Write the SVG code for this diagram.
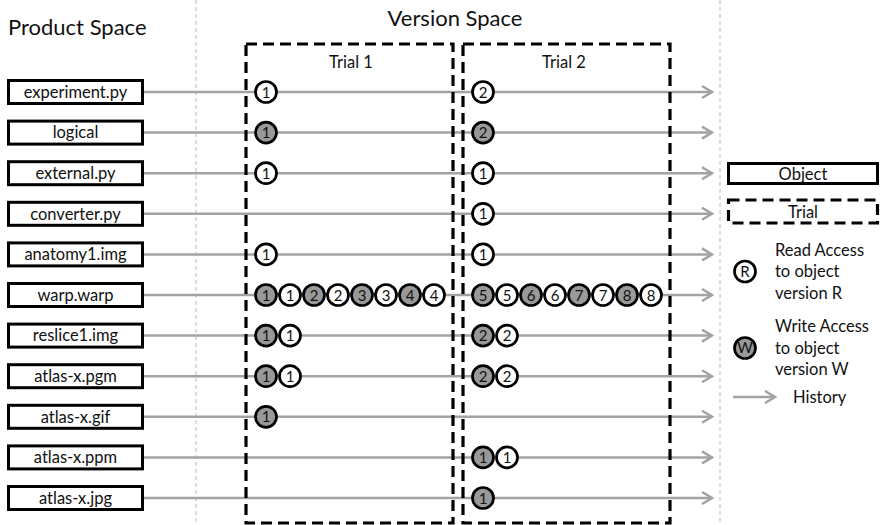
<svg xmlns="http://www.w3.org/2000/svg" width="881" height="525" viewBox="0 0 881 525">
<style>
text{font-family:Lato,"Open Sans","Liberation Sans",sans-serif;fill:#111}
.title{font-size:22px}
.lbl{font-size:16.5px;text-anchor:middle}
.obj{fill:#fff;stroke:#000;stroke-width:3}
.trial{fill:none;stroke:#000;stroke-width:3.2;stroke-dasharray:11 6}
.sep{stroke:#bbb;stroke-width:1;stroke-dasharray:4 3}
.hist{stroke:#a3a3a3;stroke-width:2.5;fill:none}
.r{fill:#fff;stroke:#000;stroke-width:2.7}
.w{fill:#999;stroke:#000;stroke-width:2.7}
.n{font-size:15px;text-anchor:middle}
.leg{font-size:16.5px}
</style>
<defs>
<marker id="arr" markerWidth="14" markerHeight="14" refX="12" refY="7" orient="auto" markerUnits="userSpaceOnUse">
<path d="M2,1 L12,7 L2,13" fill="none" stroke="#a3a3a3" stroke-width="2.5"/>
</marker>
</defs>
<rect width="881" height="525" fill="#fff"/>
<line class="sep" x1="196" y1="0" x2="196" y2="525"/>
<line class="sep" x1="720" y1="0" x2="720" y2="525"/>
<text class="title" x="8" y="35">Product Space</text>
<text class="title" x="455" y="26" text-anchor="middle">Version Space</text>

<g id="connectors">
<line class="hist" x1="143" y1="92" x2="712" y2="92" marker-end="url(#arr)"/>
<line class="hist" x1="143" y1="132.6" x2="712" y2="132.6" marker-end="url(#arr)"/>
<line class="hist" x1="143" y1="173.2" x2="712" y2="173.2" marker-end="url(#arr)"/>
<line class="hist" x1="143" y1="213.8" x2="712" y2="213.8" marker-end="url(#arr)"/>
<line class="hist" x1="143" y1="254.4" x2="712" y2="254.4" marker-end="url(#arr)"/>
<line class="hist" x1="143" y1="295" x2="712" y2="295" marker-end="url(#arr)"/>
<line class="hist" x1="143" y1="335.6" x2="712" y2="335.6" marker-end="url(#arr)"/>
<line class="hist" x1="143" y1="376.2" x2="712" y2="376.2" marker-end="url(#arr)"/>
<line class="hist" x1="143" y1="416.8" x2="712" y2="416.8" marker-end="url(#arr)"/>
<line class="hist" x1="143" y1="457.4" x2="712" y2="457.4" marker-end="url(#arr)"/>
<line class="hist" x1="143" y1="498" x2="712" y2="498" marker-end="url(#arr)"/>
</g>

<g id="trial1">
<rect class="trial" x="246" y="44" width="207" height="479"/>
<text class="lbl" x="351" y="68" font-size="16">Trial 1</text>
</g>
<g id="trial2">
<rect class="trial" x="463" y="44" width="207" height="479"/>
<text class="lbl" x="564" y="68" font-size="16">Trial 2</text>
</g>

<g id="obj-experiment"><rect class="obj" x="8.5" y="80.5" width="134" height="23"/><text class="lbl" x="75.5" y="97.8">experiment.py</text></g>
<g id="obj-logical"><rect class="obj" x="8.5" y="121.1" width="134" height="23"/><text class="lbl" x="75.5" y="138.4">logical</text></g>
<g id="obj-external"><rect class="obj" x="8.5" y="161.7" width="134" height="23"/><text class="lbl" x="75.5" y="179">external.py</text></g>
<g id="obj-converter"><rect class="obj" x="8.5" y="202.3" width="134" height="23"/><text class="lbl" x="75.5" y="219.6">converter.py</text></g>
<g id="obj-anatomy"><rect class="obj" x="8.5" y="242.9" width="134" height="23"/><text class="lbl" x="75.5" y="260.2">anatomy1.img</text></g>
<g id="obj-warp"><rect class="obj" x="8.5" y="283.5" width="134" height="23"/><text class="lbl" x="75.5" y="300.8">warp.warp</text></g>
<g id="obj-reslice"><rect class="obj" x="8.5" y="324.1" width="134" height="23"/><text class="lbl" x="75.5" y="341.4">reslice1.img</text></g>
<g id="obj-pgm"><rect class="obj" x="8.5" y="364.7" width="134" height="23"/><text class="lbl" x="75.5" y="382">atlas-x.pgm</text></g>
<g id="obj-gif"><rect class="obj" x="8.5" y="405.3" width="134" height="23"/><text class="lbl" x="75.5" y="422.6">atlas-x.gif</text></g>
<g id="obj-ppm"><rect class="obj" x="8.5" y="445.9" width="134" height="23"/><text class="lbl" x="75.5" y="463.2">atlas-x.ppm</text></g>
<g id="obj-jpg"><rect class="obj" x="8.5" y="486.5" width="134" height="23"/><text class="lbl" x="75.5" y="503.8">atlas-x.jpg</text></g>

<g id="access-trial1">
<circle class="r" cx="266" cy="92" r="10.5"/><text class="n" x="266" y="97.5">1</text>
<circle class="w" cx="266" cy="132.6" r="10.5"/><text class="n" x="266" y="138.1">1</text>
<circle class="r" cx="266" cy="173.2" r="10.5"/><text class="n" x="266" y="178.7">1</text>
<circle class="r" cx="266" cy="254.4" r="10.5"/><text class="n" x="266" y="259.9">1</text>
<circle class="w" cx="266" cy="295" r="10.5"/><text class="n" x="266" y="300.5">1</text>
<circle class="r" cx="290" cy="295" r="10.5"/><text class="n" x="290" y="300.5">1</text>
<circle class="w" cx="314" cy="295" r="10.5"/><text class="n" x="314" y="300.5">2</text>
<circle class="r" cx="338" cy="295" r="10.5"/><text class="n" x="338" y="300.5">2</text>
<circle class="w" cx="362" cy="295" r="10.5"/><text class="n" x="362" y="300.5">3</text>
<circle class="r" cx="386" cy="295" r="10.5"/><text class="n" x="386" y="300.5">3</text>
<circle class="w" cx="410" cy="295" r="10.5"/><text class="n" x="410" y="300.5">4</text>
<circle class="r" cx="434" cy="295" r="10.5"/><text class="n" x="434" y="300.5">4</text>
<circle class="w" cx="266" cy="335.6" r="10.5"/><text class="n" x="266" y="341.1">1</text>
<circle class="r" cx="290" cy="335.6" r="10.5"/><text class="n" x="290" y="341.1">1</text>
<circle class="w" cx="266" cy="376.2" r="10.5"/><text class="n" x="266" y="381.7">1</text>
<circle class="r" cx="290" cy="376.2" r="10.5"/><text class="n" x="290" y="381.7">1</text>
<circle class="w" cx="266" cy="416.8" r="10.5"/><text class="n" x="266" y="422.3">1</text>
</g>

<g id="access-trial2">
<circle class="r" cx="483" cy="92" r="10.5"/><text class="n" x="483" y="97.5">2</text>
<circle class="w" cx="483" cy="132.6" r="10.5"/><text class="n" x="483" y="138.1">2</text>
<circle class="r" cx="483" cy="173.2" r="10.5"/><text class="n" x="483" y="178.7">1</text>
<circle class="r" cx="483" cy="213.8" r="10.5"/><text class="n" x="483" y="219.3">1</text>
<circle class="r" cx="483" cy="254.4" r="10.5"/><text class="n" x="483" y="259.9">1</text>
<circle class="w" cx="483" cy="295" r="10.5"/><text class="n" x="483" y="300.5">5</text>
<circle class="r" cx="507" cy="295" r="10.5"/><text class="n" x="507" y="300.5">5</text>
<circle class="w" cx="531" cy="295" r="10.5"/><text class="n" x="531" y="300.5">6</text>
<circle class="r" cx="555" cy="295" r="10.5"/><text class="n" x="555" y="300.5">6</text>
<circle class="w" cx="579" cy="295" r="10.5"/><text class="n" x="579" y="300.5">7</text>
<circle class="r" cx="603" cy="295" r="10.5"/><text class="n" x="603" y="300.5">7</text>
<circle class="w" cx="627" cy="295" r="10.5"/><text class="n" x="627" y="300.5">8</text>
<circle class="r" cx="651" cy="295" r="10.5"/><text class="n" x="651" y="300.5">8</text>
<circle class="w" cx="483" cy="335.6" r="10.5"/><text class="n" x="483" y="341.1">2</text>
<circle class="r" cx="507" cy="335.6" r="10.5"/><text class="n" x="507" y="341.1">2</text>
<circle class="w" cx="483" cy="376.2" r="10.5"/><text class="n" x="483" y="381.7">2</text>
<circle class="r" cx="507" cy="376.2" r="10.5"/><text class="n" x="507" y="381.7">2</text>
<circle class="w" cx="483" cy="457.4" r="10.5"/><text class="n" x="483" y="462.9">1</text>
<circle class="r" cx="507" cy="457.4" r="10.5"/><text class="n" x="507" y="462.9">1</text>
<circle class="w" cx="483" cy="498" r="10.5"/><text class="n" x="483" y="503.5">1</text>
</g>

<g id="legend">
<rect class="obj" x="728.5" y="163.5" width="149" height="20"/>
<text class="lbl" x="803" y="179.5" font-size="16">Object</text>
<rect class="trial" x="728.5" y="200" width="149" height="23"/>
<text class="lbl" x="803" y="218" font-size="16">Trial</text>
<circle class="r" cx="745" cy="271.5" r="10.5"/><text class="n" x="745" y="276.5" font-size="13.5">R</text>
<text class="leg" x="775" y="255.5">Read Access</text>
<text class="leg" x="775" y="277">to object</text>
<text class="leg" x="775" y="298.5">version R</text>
<circle class="w" cx="745" cy="348" r="10.5"/><text class="n" x="745" y="353" font-size="13.5">W</text>
<text class="leg" x="775" y="332">Write Access</text>
<text class="leg" x="775" y="353.5">to object</text>
<text class="leg" x="775" y="375">version W</text>
<line class="hist" x1="733" y1="397" x2="775" y2="397" marker-end="url(#arr)"/>
<text class="leg" x="793" y="403">History</text>
</g>
</svg>
